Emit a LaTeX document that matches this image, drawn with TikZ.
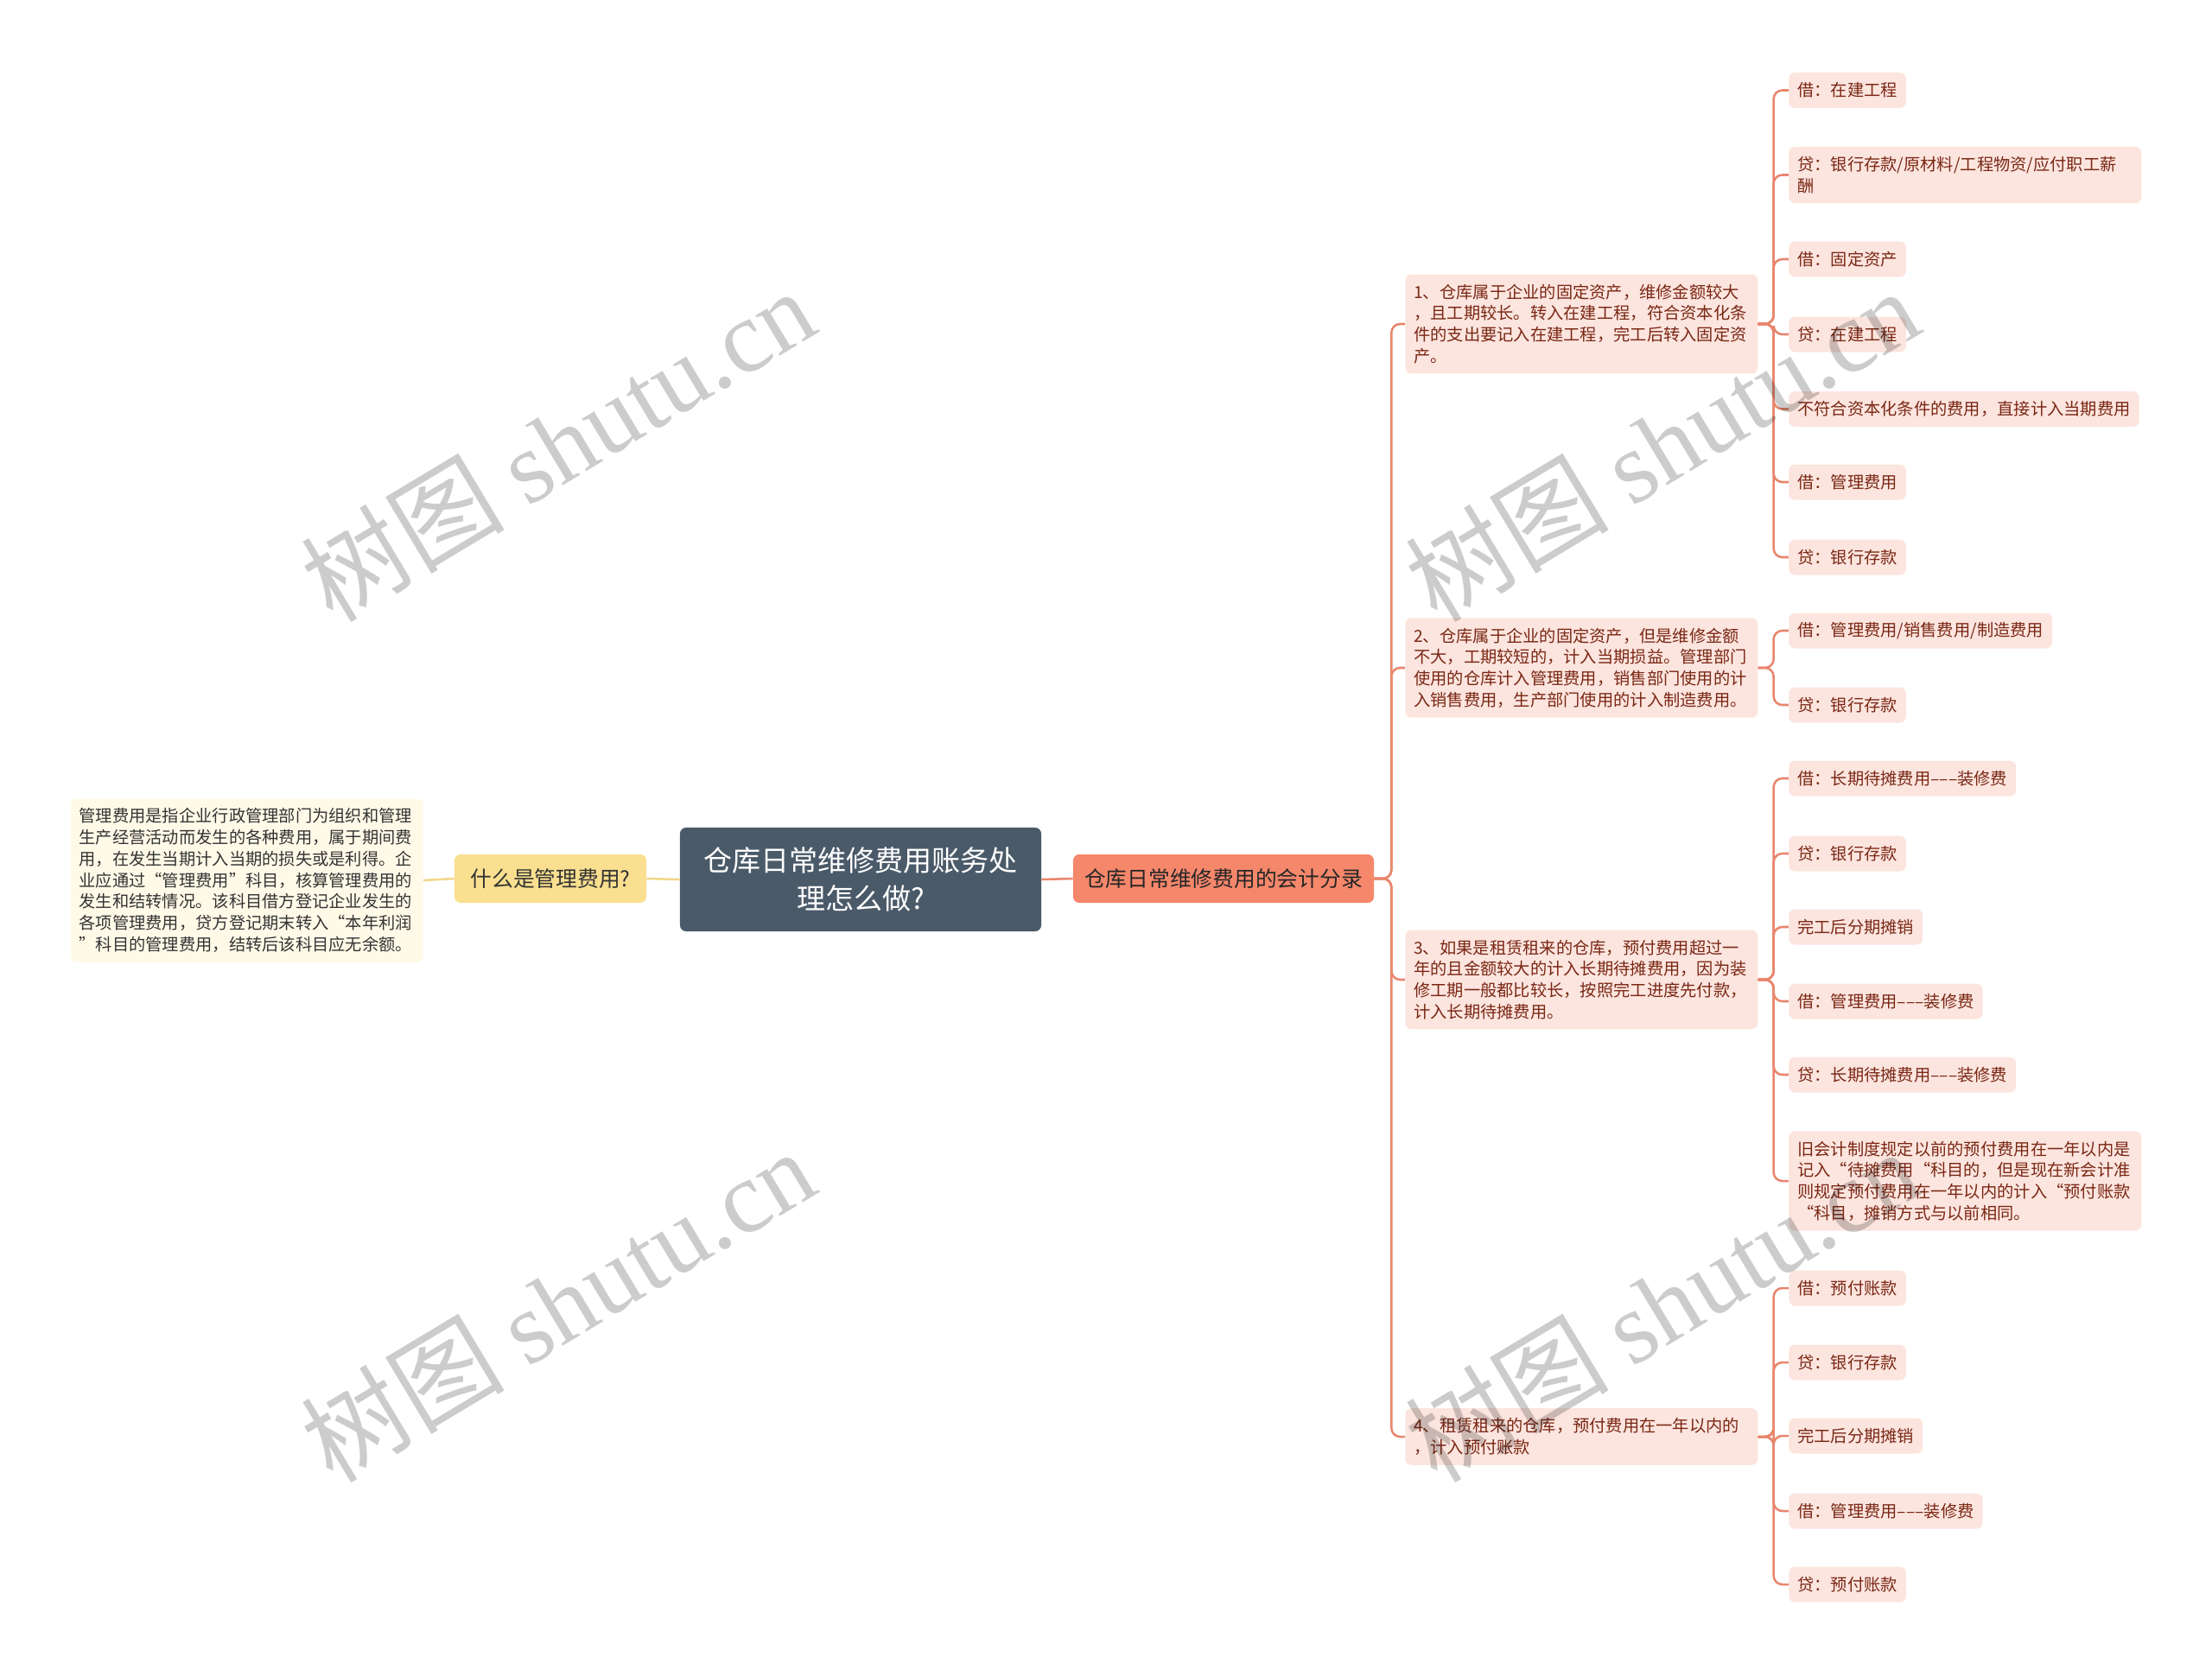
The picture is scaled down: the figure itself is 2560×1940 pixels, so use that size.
\documentclass[tikz,border=0pt]{standalone}
\usepackage{fontspec}
\setmainfont{Noto Sans CJK SC}
\newfontfamily\wmfont{Liberation Serif}
\definecolor{rootfill}{HTML}{4B5A69}
\definecolor{sunfill}{HTML}{F9DF8F}
\definecolor{notefill}{HTML}{FFFAE8}
\definecolor{coralfill}{HTML}{F5876B}
\definecolor{pinkfill}{HTML}{FCE5DF}
\definecolor{pinktext}{HTML}{7A2714}
\definecolor{coralline}{HTML}{E8866D}
\definecolor{sunline}{HTML}{F2D78A}
\tikzset{
  box/.style={rounded corners=5pt, inner xsep=0.25cm, inner ysep=8pt, align=left},
  root/.style={box, fill=rootfill, text=white, align=center, minimum width=10.45cm, minimum height=3cm, font=\fontsize{23.5pt}{31pt}\selectfont},
  ask/.style={box, fill=sunfill, text=black!80, minimum width=5.55cm, minimum height=1.4cm, align=center, font=\fontsize{17.6pt}{22pt}\selectfont},
  note/.style={box, fill=notefill, text=black!80, text width=9.7cm, font=\fontsize{13.7pt}{17.6pt}\selectfont},
  topic/.style={box, fill=coralfill, text=black!85, minimum width=8.7cm, minimum height=1.4cm, align=center, font=\fontsize{17.6pt}{22pt}\selectfont},
  case/.style={box, anchor=west, fill=pinkfill, text=pinktext, text width=9.7cm, font=\fontsize{13.7pt}{17.6pt}\selectfont},
  leaf/.style={box, anchor=west, fill=pinkfill, text=pinktext, minimum height=1.025cm, inner ysep=2pt, font=\fontsize{13.7pt}{17.6pt}\selectfont},
  leafwide/.style={leaf, inner ysep=8pt, text width=9.7cm},
  link/.style={draw=coralline, line width=1.8pt, rounded corners=0.25cm},
  sunlink/.style={draw=sunline, line width=1.8pt},
  wmark/.style={text=black, opacity=0.2, rotate=31, font=\fontsize{84pt}{86pt}\selectfont}
}
\begin{document}
\begin{tikzpicture}[x=0.025cm,y=-0.025cm]
\useasboundingbox (0,0) rectangle (2560,1940);
\node[root] (root) at (996,1018) {仓库日常维修费用账务处\\理怎么做?};
\node[ask] (ask) at (637,1017) {什么是管理费用?};
\node[note, anchor=east] (note) at (490,1019) {管理费用是指企业行政管理部门为组织和管理\\生产经营活动而发生的各种费用，属于期间费\\用，在发生当期计入当期的损失或是利得。企\\业应通过“管理费用”科目，核算管理费用的\\发生和结转情况。该科目借方登记企业发生的\\各项管理费用，贷方登记期末转入“本年利润\\”科目的管理费用，结转后该科目应无余额。};
\node[topic] (entries) at (1416,1017) {仓库日常维修费用的会计分录};
\draw[sunlink] (root.west) -- (ask.east);
\draw[sunlink] (ask.west) -- (note.east);
\draw[link] (root.east) -- (entries.west);

\node[case] (case1) at (1626,375) {1、仓库属于企业的固定资产，维修金额较大\\，且工期较长。转入在建工程，符合资本化条\\件的支出要记入在建工程，完工后转入固定资\\产。};
\node[case] (case2) at (1626,773) {2、仓库属于企业的固定资产，但是维修金额\\不大，工期较短的，计入当期损益。管理部门\\使用的仓库计入管理费用，销售部门使用的计\\入销售费用，生产部门使用的计入制造费用。};
\node[case] (case3) at (1626,1134) {3、如果是租赁租来的仓库，预付费用超过一\\年的且金额较大的计入长期待摊费用，因为装\\修工期一般都比较长，按照完工进度先付款，\\计入长期待摊费用。};
\node[case] (case4) at (1626,1663) {4、租赁租来的仓库，预付费用在一年以内的\\，计入预付账款};
\foreach \c in {case1,case2,case3,case4}
  \draw[link] (entries.east) -- ++(20,0) |- (\c.west);

\node[leaf] (a1) at (2070,104.5) {借：在建工程};
\node[leafwide] (a2) at (2070,202.5) {贷：银行存款/原材料/工程物资/应付职工薪\\酬};
\node[leaf] (a3) at (2070,300) {借：固定资产};
\node[leaf] (a4) at (2070,387) {贷：在建工程};
\node[leaf] (a5) at (2070,473.5) {不符合资本化条件的费用，直接计入当期费用};
\node[leaf] (a6) at (2070,558) {借：管理费用};
\node[leaf] (a7) at (2070,645) {贷：银行存款};
\node[leaf] (b1) at (2070,730) {借：管理费用/销售费用/制造费用};
\node[leaf] (b2) at (2070,816) {贷：银行存款};
\node[leaf] (c1) at (2070,901) {借：长期待摊费用–––装修费};
\node[leaf] (c2) at (2070,988) {贷：银行存款};
\node[leaf] (c3) at (2070,1073) {完工后分期摊销};
\node[leaf] (c4) at (2070,1159) {借：管理费用–––装修费};
\node[leaf] (c5) at (2070,1244) {贷：长期待摊费用–––装修费};
\node[leafwide] (c6) at (2070,1367) {旧会计制度规定以前的预付费用在一年以内是\\记入“待摊费用“科目的，但是现在新会计准\\则规定预付费用在一年以内的计入“预付账款\\“科目，摊销方式与以前相同。};
\node[leaf] (d1) at (2070,1491) {借：预付账款};
\node[leaf] (d2) at (2070,1577) {贷：银行存款};
\node[leaf] (d3) at (2070,1662) {完工后分期摊销};
\node[leaf] (d4) at (2070,1749) {借：管理费用–––装修费};
\node[leaf] (d5) at (2070,1834) {贷：预付账款};

\foreach \l in {1,...,7}
  \draw[link] (case1.east) -- ++(18,0) |- (a\l.west);
\foreach \l in {1,2}
  \draw[link] (case2.east) -- ++(18,0) |- (b\l.west);
\foreach \l in {1,...,6}
  \draw[link] (case3.east) -- ++(18,0) |- (c\l.west);
\foreach \l in {1,...,5}
  \draw[link] (case4.east) -- ++(18,0) |- (d\l.west);

% watermark
\foreach \p [count=\i] in {(645,514),(1923,514),(645,1510),(1923,1510)}
  \node[wmark] (wm\i) at \p {树图 {\wmfont shutu.cn}};
\end{tikzpicture}
\end{document}
